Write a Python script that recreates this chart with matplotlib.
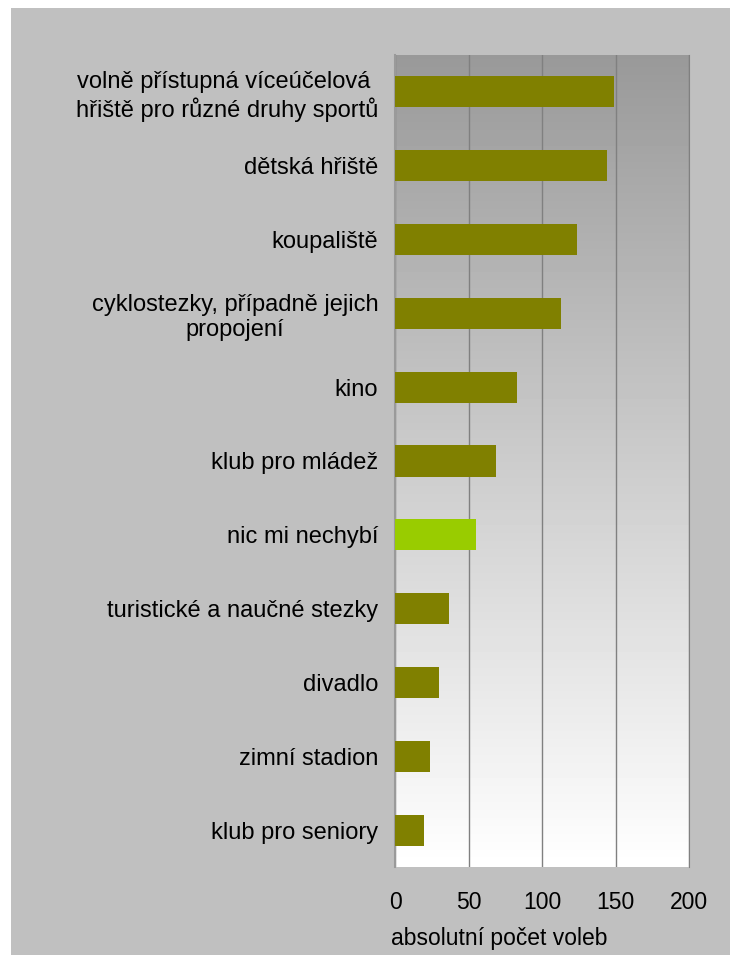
import numpy as np
import matplotlib
matplotlib.use("Agg")
import matplotlib.pyplot as plt
from matplotlib.patches import Rectangle

plt.rcParams['font.family'] = ['Liberation Sans', 'DejaVu Sans']

# data
categories = [
    "volně přístupná víceúčelová \nhřiště pro různé druhy sportů",
    "dětská hřiště",
    "koupaliště",
    "cyklostezky, případně jejich\npropojení",
    "kino",
    "klub pro mládež",
    "nic mi nechybí",
    "turistické a naučné stezky",
    "divadlo",
    "zimní stadion",
    "klub pro seniory",
]
values = [149, 144, 124, 113, 83, 69, 55, 37, 30, 24, 20]
highlight = "nic mi nechybí"
x_ticks = [0, 50, 100, 150, 200]
x_label = "absolutní počet voleb"

W, H = 730, 955
fig = plt.figure(figsize=(W / 100, H / 100), dpi=100, facecolor="#c0c0c0")
# thin white strip on the top and left edges
fig.patches.append(Rectangle((0, 0), 11 / W, 1, transform=fig.transFigure,
                             facecolor="white", edgecolor="none"))
fig.patches.append(Rectangle((0, 1 - 8 / H), 1, 8 / H, transform=fig.transFigure,
                             facecolor="white", edgecolor="none"))

ax = fig.add_axes([395 / W, (H - 867) / H, 294 / W, 812 / H])

# vertical gradient, dark grey on top to white at the bottom
grad = np.linspace(0.6, 1.0, 256)[:, None]
ax.imshow(grad, cmap="gray", vmin=0, vmax=1, aspect="auto",
          extent=[0, 1, 0, 1], transform=ax.transAxes, zorder=0,
          interpolation="bilinear")

colors = ["#99cc00" if c == highlight else "#808000" for c in categories]
y = np.arange(len(categories))
ax.barh(y, values, height=0.42, color=colors, zorder=3)

ax.set_xlim(x_ticks[0], x_ticks[-1])
ax.set_ylim(len(categories) - 0.5, -0.5)
ax.set_xticks(x_ticks)
ax.set_yticks(y)
ax.set_yticklabels(categories, fontsize=17)
for lbl in ax.get_yticklabels():
    lbl.set_multialignment("center")
ax.tick_params(axis="x", length=0, pad=17, labelsize=16.5)
ax.tick_params(axis="y", length=0, pad=12)

ax.set_axisbelow(True)
ax.grid(axis="x", color="#808080", linewidth=1.0, zorder=1)
for side in ["top", "bottom"]:
    ax.spines[side].set_visible(False)
ax.spines["right"].set_color("#808080")
ax.spines["left"].set_color("#9a9a9a")
ax.spines["left"].set_linewidth(1.5)

fig.text(391 / W, (H - 945) / H, x_label, fontsize=16.5, ha="left", va="baseline")

fig.savefig("out.png", dpi=100, facecolor=fig.get_facecolor())
